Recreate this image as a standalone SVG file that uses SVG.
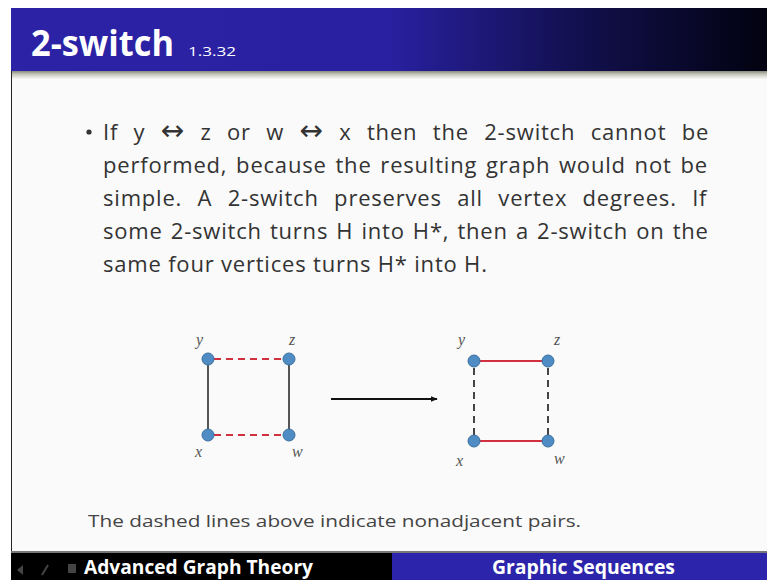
<svg xmlns="http://www.w3.org/2000/svg" width="767" height="580" viewBox="0 0 767 580">
<defs>
<linearGradient id="hdr" x1="0" y1="0" x2="1" y2="0">
<stop offset="0" stop-color="#2c22a6"/>
<stop offset="0.5" stop-color="#2820a0"/>
<stop offset="0.75" stop-color="#12104e"/>
<stop offset="1" stop-color="#020210"/>
</linearGradient>
<linearGradient id="shadow" x1="0" y1="0" x2="0" y2="1">
<stop offset="0" stop-color="#8a8a80"/>
<stop offset="0.4" stop-color="#c4c6b8"/>
<stop offset="1" stop-color="#f8f8f8"/>
</linearGradient>
<marker id="arr" viewBox="0 0 10 10" refX="9" refY="5" markerWidth="7" markerHeight="7" orient="auto" markerUnits="userSpaceOnUse">
<path d="M0,1 L10,5 L0,9 z" fill="#111"/>
</marker>
</defs>
<style>
.body{font-family:"Open Sans","Liberation Sans",sans-serif;fill:#333;font-size:22px;letter-spacing:0.8px}
.arw{font-family:"DejaVu Sans",sans-serif;font-size:28px}
.lbl{font-family:"Liberation Serif",serif;font-style:italic;fill:#555;font-size:16px}
.node{fill:#4f8cc4;stroke:#3a6f9e;stroke-width:1}
.solid{stroke:#555;stroke-width:2}
.red{stroke:#d2303f;stroke-width:2}
.reddash{stroke:#d2303f;stroke-width:2;stroke-dasharray:7,5}
.dash{stroke:#444;stroke-width:2;stroke-dasharray:7,5}
.foot{font-family:"Open Sans","Liberation Sans",sans-serif;font-weight:bold;fill:#fff;font-size:19px}
</style>
<rect width="767" height="580" fill="#ffffff"/>
<rect x="11" y="8" width="756" height="572" fill="#fafafa"/>
<line x1="11.5" y1="8" x2="11.5" y2="553" stroke="#222" stroke-width="1"/>
<rect x="11" y="8" width="756" height="63" fill="url(#hdr)"/>
<rect x="12" y="71" width="755" height="8" fill="url(#shadow)"/>
<text x="31" y="56" font-family="Open Sans, Liberation Sans, sans-serif" font-weight="bold" font-size="35" fill="#fff" textLength="143" lengthAdjust="spacingAndGlyphs">2-switch</text>
<text x="188" y="56" font-family="Open Sans, Liberation Sans, sans-serif" font-size="13" fill="#fff" textLength="48" lengthAdjust="spacingAndGlyphs">1.3.32</text>

<circle cx="89" cy="132" r="2.6" fill="#333"/>
<text class="body" x="103" y="140" word-spacing="8.9">If y <tspan class="arw">↔</tspan> z or w <tspan class="arw">↔</tspan> x then the 2-switch cannot be</text>
<text class="body" x="103" y="173" word-spacing="2.3">performed, because the resulting graph would not be</text>
<text class="body" x="103" y="206" word-spacing="8.9">simple. A 2-switch preserves all vertex degrees. If</text>
<text class="body" x="103" y="239" word-spacing="1.6">some 2-switch turns H into H*, then a 2-switch on the</text>
<text class="body" x="103" y="272">same four vertices turns H* into H.</text>

<g id="connectors">
<line class="solid" x1="208" y1="359" x2="208" y2="435"/>
<line class="solid" x1="289" y1="359" x2="289" y2="435"/>
<line class="reddash" x1="214" y1="359" x2="283" y2="359"/>
<line class="reddash" x1="214" y1="435" x2="283" y2="435"/>
<line x1="331" y1="399" x2="437" y2="399" stroke="#111" stroke-width="2" marker-end="url(#arr)"/>
<line class="red" x1="474" y1="361" x2="548" y2="361"/>
<line class="red" x1="474" y1="441" x2="548" y2="441"/>
<line class="dash" x1="474" y1="368" x2="474" y2="435"/>
<line class="dash" x1="548" y1="368" x2="548" y2="435"/>
</g>

<g id="L-y"><circle class="node" cx="208" cy="359" r="6"/><text class="lbl" x="196" y="345">y</text></g>
<g id="L-z"><circle class="node" cx="289" cy="359" r="6"/><text class="lbl" x="289" y="345">z</text></g>
<g id="L-x"><circle class="node" cx="208" cy="435" r="6"/><text class="lbl" x="195" y="457">x</text></g>
<g id="L-w"><circle class="node" cx="289" cy="435" r="6"/><text class="lbl" x="292" y="457">w</text></g>

<g id="R-y"><circle class="node" cx="474" cy="361" r="6"/><text class="lbl" x="458" y="345">y</text></g>
<g id="R-z"><circle class="node" cx="548" cy="361" r="6"/><text class="lbl" x="554" y="345">z</text></g>
<g id="R-x"><circle class="node" cx="474" cy="441" r="6"/><text class="lbl" x="456" y="466">x</text></g>
<g id="R-w"><circle class="node" cx="548" cy="441" r="6"/><text class="lbl" x="554" y="464">w</text></g>

<text x="88" y="527" font-family="Open Sans, Liberation Sans, sans-serif" font-size="17" fill="#444" textLength="493" lengthAdjust="spacingAndGlyphs">The dashed lines above indicate nonadjacent pairs.</text>

<rect x="11" y="551" width="756" height="2" fill="#777"/>
<rect x="11" y="553" width="381" height="27" fill="#000"/>
<rect x="392" y="553" width="375" height="27" fill="#2c24aa"/>
<g fill="#444">
<path d="M17,570 L23,565 L23,575 z"/>
<path d="M42,575 L48,565" stroke="#444" stroke-width="2"/>
<rect x="68" y="564" width="8" height="9"/>
</g>
<text class="foot" x="84" y="574" textLength="229" lengthAdjust="spacingAndGlyphs">Advanced Graph Theory</text>
<text class="foot" x="492" y="574" textLength="183" lengthAdjust="spacingAndGlyphs">Graphic Sequences</text>
</svg>
